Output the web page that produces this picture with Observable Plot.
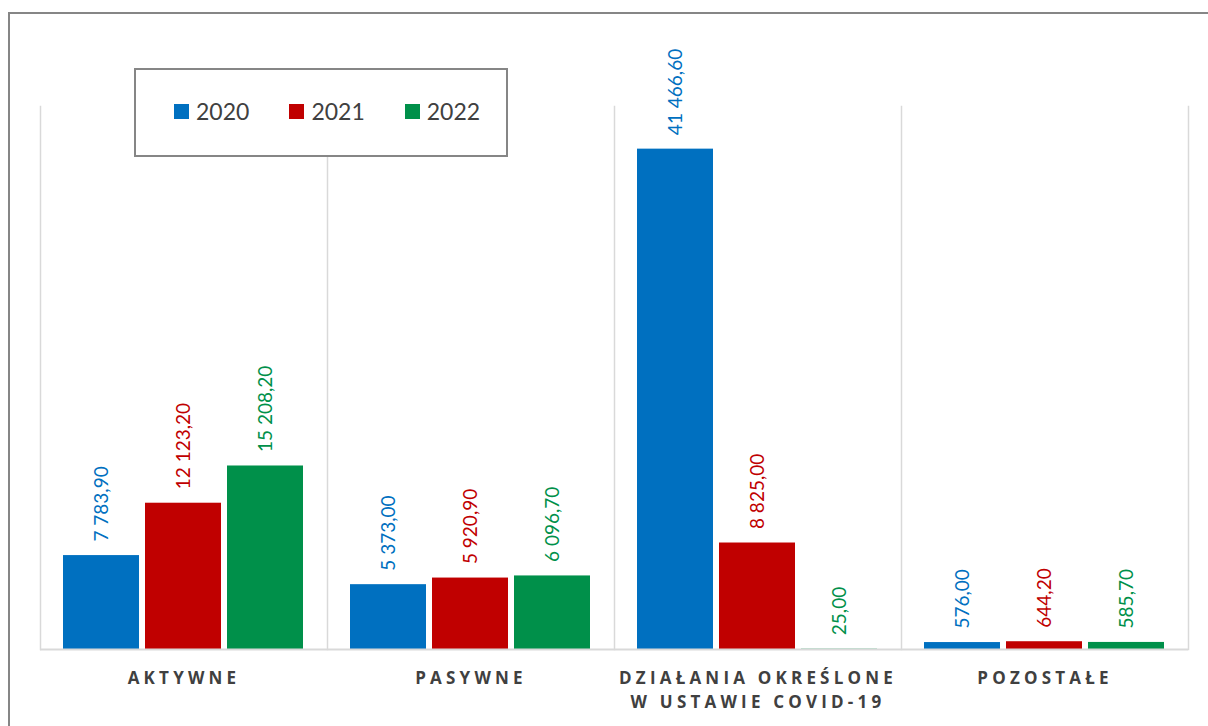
<!DOCTYPE html>
<html>
<head>
<meta charset="utf-8">
<script src="https://cdn.jsdelivr.net/npm/d3@7"></script>
<script src="https://cdn.jsdelivr.net/npm/@observablehq/plot@0.6"></script>
<style>
  body { margin: 0; background: #fff; }
  #wrap { position: relative; width: 1208px; height: 726px; overflow: hidden; }
  #outer { position: absolute; left: 8px; top: 12px; width: 1220px; height: 740px; border: 2px solid #868686; box-sizing: border-box; }
  #legend { position: absolute; left: 134px; top: 68px; width: 374px; height: 89px; border: 2px solid #868686; box-sizing: border-box; background: #fff;
            display: flex; align-items: center; padding-left: 38px; padding-bottom: 3px; font-family: Lato, "Open Sans", sans-serif; font-size: 23px; color: #404040; }
  .item { display: flex; align-items: center; margin-right: 40px; }
  .sw { width: 15px; height: 15px; margin-right: 7px; }
  #chart { position: absolute; left: 0; top: 0; }
</style>
</head>
<body>
<div id="wrap">
  <div id="outer"></div>
  <div id="chart"></div>
  <div id="legend"></div>
</div>
<script>
const categories = ["AKTYWNE", "PASYWNE", "DZIAŁANIA OKREŚLONE\nW USTAWIE COVID-19", "POZOSTAŁE"];
const years = ["2020", "2021", "2022"];
const colors = ["#0070C0", "#C00000", "#00904A"];
const values2020 = [7783.9, 5373.0, 41466.6, 576.0];
const values2021 = [12123.2, 5920.9, 8825.0, 644.2];
const values2022 = [15208.2, 6096.7, 25.0, 585.7];

const series = [values2020, values2021, values2022];
const data = [];
categories.forEach((c, i) => years.forEach((y, j) => data.push({cat: c, year: y, value: series[j][i]})));

const fmt = v => {
  const [intp, dec] = v.toFixed(2).split(".");
  return intp.replace(/\B(?=(\d{3})+(?!\d))/g, " ") + "," + dec;
};

const chart = Plot.plot({
  width: 1208,
  height: 726,
  marginLeft: 40,
  marginRight: 20,
  marginTop: 106,
  marginBottom: 77,
  fx: {domain: categories, padding: 0, label: null},
  x: {domain: years, paddingInner: 0.07, paddingOuter: 0.28, axis: null},
  y: {domain: [0, 45000], axis: null},
  color: {domain: years, range: colors},
  marks: [
    Plot.frame({anchor: "left", stroke: "#d9d9d9", strokeWidth: 1.5}),
    Plot.frame({anchor: "right", stroke: "#d9d9d9", strokeWidth: 1.5, fx: ["POZOSTAŁE"]}),
    Plot.barY(data, {fx: "cat", x: "year", y: "value", fill: "year"}),
    Plot.ruleY([0], {stroke: "#d9d9d9", strokeWidth: 2}),
    Plot.text(data, {fx: "cat", x: "year", y: "value", text: d => fmt(d.value), fill: "year", rotate: -90, textAnchor: "start", dy: -14,
      fontSize: 19, fontFamily: "Lato, 'Open Sans', sans-serif"}),
    Plot.axisFx({anchor: "bottom", tickSize: 0, tickPadding: 18, fontSize: 17, fontWeight: "bold", fill: "#404040", label: null,
      fontFamily: "'Open Sans', Lato, sans-serif", lineHeight: 1.4})
  ]
});
chart.querySelectorAll('[aria-label="fx-axis tick label"] text').forEach(t => t.setAttribute("letter-spacing", "4.2px"));
document.getElementById("chart").appendChild(chart);

const legend = document.getElementById("legend");
years.forEach((y, i) => {
  const it = document.createElement("div");
  it.className = "item";
  const sw = document.createElement("div");
  sw.className = "sw";
  sw.style.background = colors[i];
  const tx = document.createElement("span");
  tx.textContent = y;
  it.appendChild(sw); it.appendChild(tx);
  legend.appendChild(it);
});
</script>
</body>
</html>
